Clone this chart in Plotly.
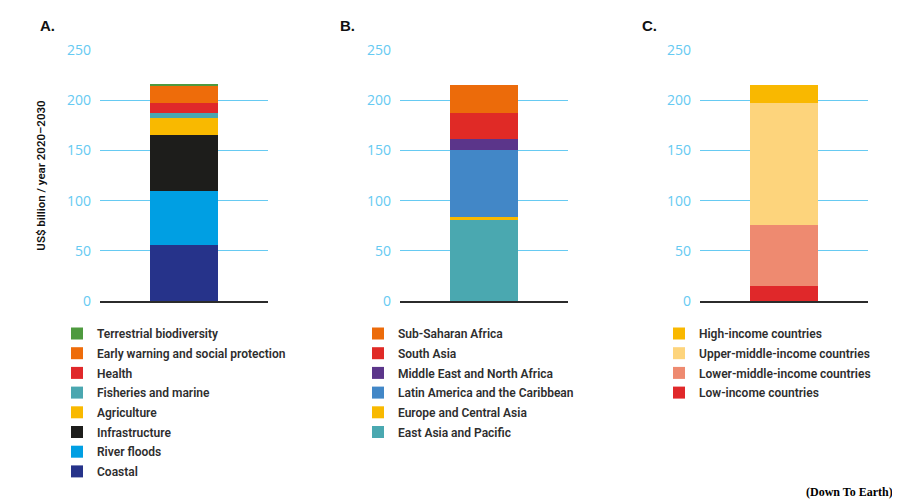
import plotly.graph_objects as go
from plotly.subplots import make_subplots

# Panel A: adaptation cost by sector (bottom to top)
sectors = ["Coastal", "River floods", "Infrastructure", "Agriculture",
           "Fisheries and marine", "Health",
           "Early warning and social protection", "Terrestrial biodiversity"]
sector_values = [56, 54, 55.5, 16.3, 5.3, 10.6, 16, 2]
sector_colors = ["#26338a", "#009fe3", "#1d1d1b", "#f9b900",
                 "#4aa7b0", "#e0282a", "#ee6c0a", "#4e9a3f"]

# Panel B: by region (bottom to top)
regions = ["East Asia and Pacific", "Europe and Central Asia",
           "Latin America and the Caribbean", "Middle East and North Africa",
           "South Asia", "Sub-Saharan Africa"]
region_values = [80.7, 3.3, 66.4, 10.6, 25.9, 28.2]
region_colors = ["#4aa8b0", "#f8b900", "#4287c7", "#5b358a", "#e02a26", "#ec6b0a"]

# Panel C: by income group (bottom to top)
income_groups = ["Low-income countries", "Lower-middle-income countries",
                 "Upper-middle-income countries", "High-income countries"]
income_values = [15, 61, 121.5, 17.6]
income_colors = ["#e0282a", "#ee8a70", "#fdd47c", "#f9b800"]

panel_labels = ["A.", "B.", "C."]
y_ticks = [0, 50, 100, 150, 200, 250]

W, H = 900, 500
# the page body adds an 8px margin, so pixel positions are shifted back by it
OFF = 8


def px_x(x):
    return (x - OFF) / W


def px_y(y):
    return 1 - (y - OFF) / H


fig = make_subplots(rows=1, cols=3)

panels = [
    (sectors, sector_values, sector_colors, "legend"),
    (regions, region_values, region_colors, "legend2"),
    (income_groups, income_values, income_colors, "legend3"),
]

for col, (names, vals, cols, leg) in enumerate(panels, start=1):
    n = len(names)
    for k, (name, v, c) in enumerate(zip(names, vals, cols)):
        fig.add_trace(go.Bar(
            x=[panel_labels[col - 1]], y=[v], name=name,
            marker=dict(color=c, line=dict(width=0)),
            width=0.4, legend=leg, legendgroup=leg + name,
            legendrank=n - k,
        ), row=1, col=col)

fig.update_layout(barmode="stack")

# place the three panels in pixel terms
x_left = [100, 400, 700]
for i, xl in enumerate(x_left, start=1):
    xa = "xaxis" if i == 1 else f"xaxis{i}"
    ya = "yaxis" if i == 1 else f"yaxis{i}"
    fig.layout[xa].update(
        domain=[px_x(xl), px_x(xl + 168)], range=[-0.5, 0.5],
        showticklabels=False, showgrid=False, zeroline=False,
        showline=True, linecolor="#2b2b2b", linewidth=1.5, ticks="",
        automargin=False,
    )
    fig.layout[ya].update(
        domain=[px_y(301), px_y(50)], range=[0, 250],
        tickvals=y_ticks, showgrid=True, gridcolor="#66caf2", gridwidth=1,
        zeroline=False, showline=False, ticks="", ticklabelstandoff=8,
        tickfont=dict(family="Open Sans", size=14, color="#66caf2"),
        automargin=False,
    )

fig.update_layout(yaxis_title=dict(
    text="US$ billion / year 2020\u20132030", standoff=18,
    font=dict(family="Roboto", size=11.5, color="#111", weight=600),
))

legend_font = dict(family="Roboto", size=12, color="#2e2e2e", weight=600)
for leg, xs in [("legend", 57), ("legend2", 358), ("legend3", 659)]:
    fig.layout[leg] = dict(
        x=px_x(xs), y=px_y(319), xanchor="left", yanchor="top",
        traceorder="grouped", tracegroupgap=0.7,
        font=legend_font, bgcolor="rgba(0,0,0,0)",
    )

for lab, xp in zip(panel_labels, [38, 338, 640]):
    fig.add_annotation(
        text=f"<b>{lab}</b>", x=px_x(xp), y=px_y(25), xref="paper", yref="paper",
        xanchor="left", yanchor="middle", showarrow=False,
        font=dict(family="Liberation Sans", size=15, color="#111"),
    )

fig.add_annotation(
    text="<b>(Down To Earth)</b>", x=px_x(895), y=px_y(492),
    xref="paper", yref="paper", xanchor="right", yanchor="middle",
    showarrow=False, font=dict(family="Liberation Serif", size=12, color="#000"),
)

fig.update_layout(
    width=W, height=H, margin=dict(l=0, r=0, t=0, b=0, autoexpand=False),
    plot_bgcolor="white", paper_bgcolor="white", showlegend=True,
)

fig.write_html("out.html")
